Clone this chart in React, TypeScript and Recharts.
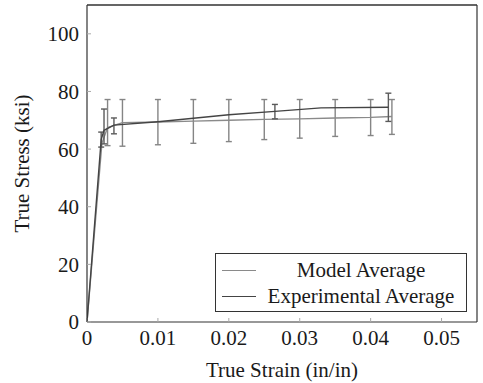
import { ErrorBar, Line, LineChart, ReferenceLine, XAxis, YAxis } from 'recharts'

const xTicks = [0, 0.01, 0.02, 0.03, 0.04, 0.05]
const yTicks = [0, 20, 40, 60, 80, 100]

// model average, with the wide scatter bars
const modelStrain = [0, 0.0021, 0.0029, 0.005, 0.01, 0.015, 0.02, 0.025, 0.03, 0.035, 0.04, 0.043]
const modelStress = [0, 62, 67.5, 69.2, 69.4, 69.7, 70, 70.3, 70.5, 70.8, 71, 71.3]
const modelBarLow = [null, null, 61.2, 61, 61.5, 62, 62.6, 63.3, 63.8, 64.4, 64.7, 65.1]
const modelBarHigh = [null, null, 77.2, 77.2, 77.2, 77.2, 77.2, 77.2, 77.2, 77.2, 77.2, 77.2]

// experimental average
const expStrain = [0, 0.002, 0.0024, 0.0038, 0.01, 0.02, 0.0265, 0.033, 0.0425]
const expStress = [0, 63.3, 66.5, 68.3, 69.5, 71.9, 73.1, 74.3, 74.5]
const expBarLow = [null, 60.7, 61.8, 65.3, null, null, 70.5, null, 69.6]
const expBarHigh = [null, 65.9, 73.9, 70.8, null, null, 75.5, null, 79.4]

const MODEL_COLOR = '#8a8a8a'
const EXP_COLOR = '#444'
const FONT = 'Liberation Serif, Times New Roman, DejaVu Serif, serif'

function build(
  strain: number[],
  stress: number[],
  low: (number | null)[],
  high: (number | null)[]
) {
  return strain.map((x, i) => ({
    x,
    y: stress[i],
    err:
      low[i] == null || high[i] == null
        ? undefined
        : [stress[i] - (low[i] as number), (high[i] as number) - stress[i]],
  }))
}

const modelData = build(modelStrain, modelStress, modelBarLow, modelBarHigh)
const expData = build(expStrain, expStress, expBarLow, expBarHigh)

const legendItems = [
  { label: 'Model Average', color: MODEL_COLOR },
  { label: 'Experimental Average', color: EXP_COLOR },
]

function LegendBox() {
  return (
    <div
      style={{
        position: 'absolute',
        left: 215,
        top: 253,
        width: 252,
        height: 59,
        border: '1px solid #333',
        background: '#fff',
        boxSizing: 'border-box',
        fontFamily: FONT,
        fontSize: 21,
        color: '#1a1a1a',
        padding: '3px 0',
      }}
    >
      {legendItems.map((it) => (
        <div key={it.label} style={{ display: 'flex', alignItems: 'center', height: 26 }}>
          <div style={{ width: 34, marginLeft: 6, borderTop: `1.3px solid ${it.color}` }} />
          <div style={{ flex: 1, textAlign: 'center', lineHeight: '26px' }}>{it.label}</div>
        </div>
      ))}
    </div>
  )
}

export default function App() {
  const tickStyle = { fontFamily: FONT, fontSize: 21, fill: '#1a1a1a' }
  return (
    <div style={{ position: 'absolute', left: 0, top: 0, width: 483, height: 383, background: '#fff' }}>
      <LineChart width={483} height={383} margin={{ top: 4, right: 5, left: 0, bottom: 0 }}>
        <XAxis
          dataKey="x"
          type="number"
          domain={[0, 0.055]}
          ticks={xTicks}
          allowDataOverflow
          height={61}
          tick={tickStyle}
          tickSize={-4}
          tickMargin={12}
          axisLine={{ stroke: '#333', strokeWidth: 1.2 }}
          tickLine={{ stroke: '#aaa' }}
          label={{
            value: 'True Strain (in/in)',
            position: 'insideBottom',
            offset: 6,
            style: { fontFamily: FONT, fontSize: 21, fill: '#1a1a1a' },
          }}
        />
        <XAxis
          xAxisId="top"
          orientation="top"
          type="number"
          domain={[0, 0.055]}
          ticks={xTicks}
          height={1}
          tick={false}
          tickSize={-4}
          axisLine={{ stroke: '#333', strokeWidth: 1.2 }}
          tickLine={{ stroke: '#aaa' }}
        />
        <YAxis
          type="number"
          domain={[0, 110]}
          ticks={yTicks}
          allowDataOverflow
          width={87}
          tick={tickStyle}
          tickSize={-4}
          tickMargin={12}
          axisLine={{ stroke: '#333', strokeWidth: 1.2 }}
          tickLine={{ stroke: '#aaa' }}
          label={{
            value: 'True Stress (ksi)',
            angle: -90,
            position: 'insideLeft',
            offset: 22,
            style: { textAnchor: 'middle', fontFamily: FONT, fontSize: 21, fill: '#1a1a1a' },
          }}
        />
        <YAxis
          yAxisId="right"
          orientation="right"
          type="number"
          domain={[0, 110]}
          ticks={yTicks}
          width={1}
          tick={false}
          tickSize={-4}
          axisLine={{ stroke: '#333', strokeWidth: 1.2 }}
          tickLine={{ stroke: '#aaa' }}
        />
        <ReferenceLine y={110} stroke="#333" strokeWidth={1.2} />
        <Line
          data={modelData}
          dataKey="y"
          name="Model Average"
          type="linear"
          stroke={MODEL_COLOR}
          strokeWidth={1.4}
          dot={false}
          isAnimationActive={false}
        >
          <ErrorBar dataKey="err" direction="y" width={3} stroke="#858585" strokeWidth={1.4} />
        </Line>
        <Line
          data={expData}
          dataKey="y"
          name="Experimental Average"
          type="linear"
          stroke={EXP_COLOR}
          strokeWidth={1.4}
          dot={false}
          isAnimationActive={false}
        >
          <ErrorBar dataKey="err" direction="y" width={3} stroke="#5a5a5a" strokeWidth={1.4} />
        </Line>
      </LineChart>
      <LegendBox />
    </div>
  )
}
